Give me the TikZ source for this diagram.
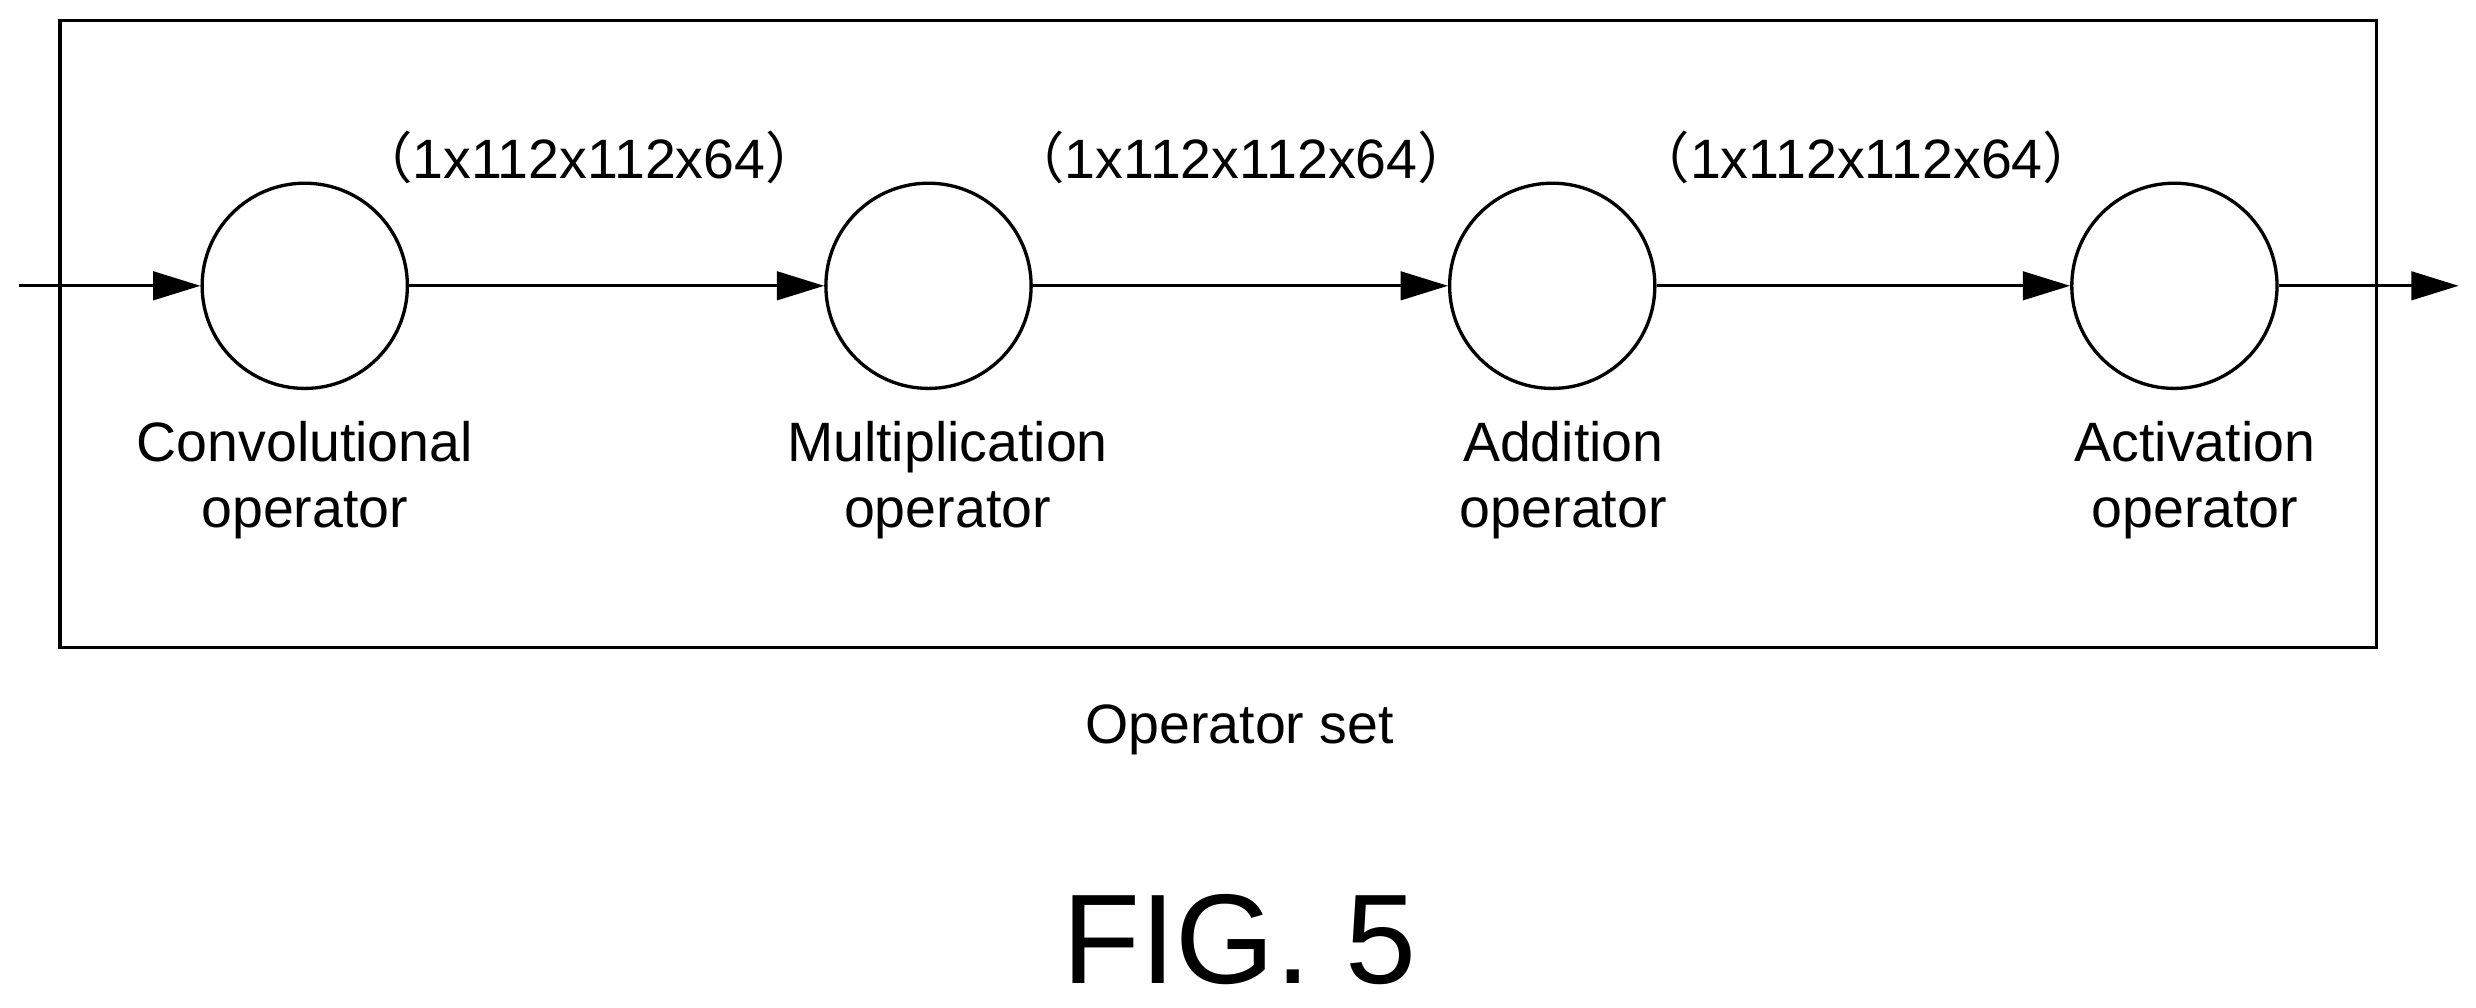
\documentclass[tikz,border=0pt]{standalone}
\usepackage{fontspec}
\setmainfont{Liberation Sans}
\newfontfamily\cjk{Noto Sans CJK SC}
\usetikzlibrary{arrows.meta}
\newcommand{\lp}{\makebox[1em][r]{\cjk （}}
\newcommand{\rp}{\makebox[1em][l]{\cjk ）}}
\begin{document}
\begin{tikzpicture}[x=0.02cm,y=-0.02cm,
  op/.style={circle,draw,line width=1.2pt,minimum size=2.6cm,inner sep=0pt},
  lab/.style={font=\fontsize{20}{24}\selectfont,align=center},
  dim/.style={font=\fontsize{20}{22}\selectfont},
  arr/.style={line width=1.2pt,-{Triangle[length=0.6cm,width=0.36cm]}}]
\useasboundingbox (0,0) rectangle (1568,638);
\node[draw,line width=1.2pt,minimum width=1467*0.02cm,minimum height=397*0.02cm,inner sep=0pt] (box) at (771.5,211.5) {};
\node[op] (c1) at (193,181) {};
\node[op] (c2) at (588,181) {};
\node[op] (c3) at (983,181) {};
\node[op] (c4) at (1377,181) {};
\coordinate (in) at (12,181);
\coordinate (out) at (1557,181);
\draw[arr] (in) -- (c1);
\draw[arr] (c1) -- (c2);
\draw[arr] (c2) -- (c3);
\draw[arr] (c3) -- (c4);
\draw[arr] (c4) -- (out);
\node[dim] (d1) at (373,100) {\lp1x112x112x64\rp};
\node[dim] (d2) at (786,100) {\lp1x112x112x64\rp};
\node[dim] (d3) at (1182,100) {\lp1x112x112x64\rp};
\node[lab] (l1) at (193,304) {Convolutional\\operator};
\node[lab] (l2) at (600,304) {Multiplication\\operator};
\node[lab] (l3) at (990,304) {Addition\\operator};
\node[lab] (l4) at (1390,304) {Activation\\operator};
\node[lab] (set) at (785,462) {Operator set};
\node[font=\fontsize{46}{50}\selectfont] (fig) at (785,595) {FIG. 5};
\end{tikzpicture}
\end{document}
